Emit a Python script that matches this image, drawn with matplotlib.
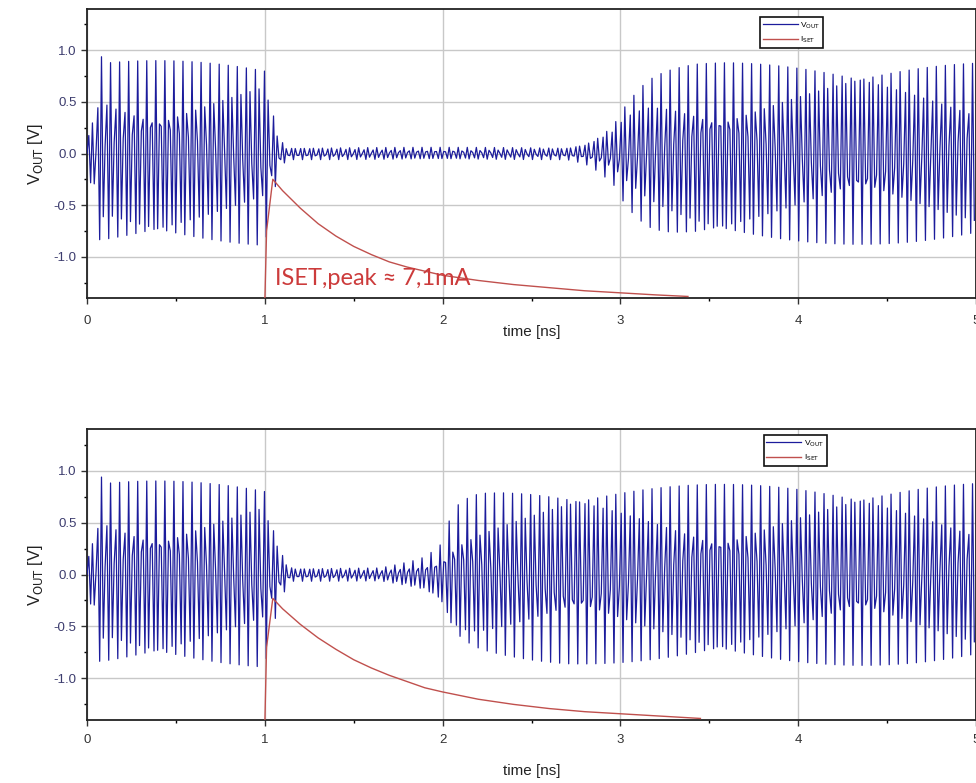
import numpy as np
import matplotlib
matplotlib.use("Agg")
import matplotlib.pyplot as plt
from matplotlib.ticker import MultipleLocator

# ---------------- data ----------------
trace_freq_ghz = 39.4       # oscillation seen through the simulator's output samples
sample_step_ns = 0.010185   # simulator output step (gives the aliased / moire look)

# panel 1: V_OUT envelope (time in ns, amplitude in V)
env1_t = [0.00, 0.03, 0.06, 0.08, 0.12, 1.00, 1.03, 1.07, 1.12, 2.70, 2.80,
          2.88, 2.96, 3.00, 3.05, 3.11, 3.15, 3.21, 3.26, 3.31, 3.42, 3.60, 4.00, 5.00]
env1_a = [0.30, 0.30, 0.80, 0.97, 0.90, 0.90, 0.60, 0.22, 0.06, 0.06, 0.10,
          0.18, 0.30, 0.43, 0.56, 0.67, 0.74, 0.79, 0.82, 0.84, 0.87, 0.88, 0.88, 0.88]
# panel 1: I_SET trace (drawn on the V_OUT scale)
iset1_t = [1.00, 1.01, 1.045, 1.10, 1.20, 1.30, 1.40, 1.50, 1.60, 1.70, 1.80,
           1.90, 2.00, 2.20, 2.40, 2.60, 2.80, 3.00, 3.20, 3.38]
iset1_v = [-1.45, -0.75, -0.25, -0.36, -0.53, -0.68, -0.80, -0.90, -0.98, -1.05, -1.10,
           -1.14, -1.18, -1.23, -1.27, -1.30, -1.33, -1.35, -1.37, -1.385]

# panel 2: V_OUT envelope
env2_t = [0.00, 0.03, 0.06, 0.08, 0.12, 1.00, 1.03, 1.07, 1.12, 1.16, 1.65, 1.75,
          1.85, 1.90, 1.95, 1.99, 2.04, 2.09, 2.14, 2.19, 2.24, 2.34, 2.49, 2.70, 5.00]
env2_a = [0.30, 0.30, 0.80, 0.97, 0.90, 0.90, 0.60, 0.36, 0.12, 0.065, 0.065, 0.10,
          0.14, 0.17, 0.23, 0.29, 0.53, 0.68, 0.74, 0.78, 0.80, 0.82, 0.84, 0.86, 0.88]
# panel 2: I_SET trace
iset2_t = [1.00, 1.01, 1.045, 1.10, 1.20, 1.30, 1.40, 1.50, 1.60, 1.70, 1.80,
           1.90, 2.00, 2.20, 2.40, 2.60, 2.80, 3.00, 3.20, 3.45]
iset2_v = [-1.45, -0.70, -0.23, -0.33, -0.48, -0.61, -0.72, -0.82, -0.90, -0.97, -1.03,
           -1.09, -1.13, -1.20, -1.25, -1.29, -1.32, -1.34, -1.36, -1.385]

x_ticks = [0, 1, 2, 3, 4, 5]
y_ticks = [-1.0, -0.5, 0.0, 0.5, 1.0]
annotation = "ISET,peak \u2248 7,1mA"

# ---------------- build traces ----------------
def vout_trace(env_t, env_a):
    t = np.arange(0.0, 5.0 + 1e-9, sample_step_ns)
    amp = np.interp(t, env_t, env_a)
    return t, amp * np.sin(2 * np.pi * trace_freq_ghz * t)

blue = "#1c1c9c"
red = "#c0504d"
tick_col = "#3c3c6e"

plt.rcParams["font.family"] = ["Liberation Sans", "DejaVu Sans"]

fig = plt.figure(figsize=(9.76, 7.83), dpi=100)
ax1 = fig.add_axes([87 / 976, 1 - 298 / 783, 889 / 976, 289 / 783])
ax2 = fig.add_axes([87 / 976, 1 - 720 / 783, 889 / 976, 291 / 783])

panels = [
    (ax1, env1_t, env1_a, iset1_t, iset1_v, (0.757, 0.972), True, 8, -1),
    (ax2, env2_t, env2_a, iset2_t, iset2_v, (0.761, 0.979), False, 6, 13),
]

for ax, et, ea, it, iv, lpos, annotate, tpad, xlpad in panels:
    t, v = vout_trace(et, ea)
    ax.plot(t, v, color=blue, lw=0.9, label="V$_\\mathrm{OUT}$", zorder=3)
    ax.plot(it, iv, color=red, lw=1.0, label="I$_\\mathrm{SET}$", zorder=4)
    ax.set_xlim(0, 5)
    ax.set_ylim(-1.4, 1.4)
    ax.set_xticks(x_ticks)
    ax.set_xticklabels([str(x) for x in x_ticks])
    ax.set_yticks(y_ticks)
    ax.set_yticklabels([f"{y:.1f}" for y in y_ticks])
    ax.xaxis.set_minor_locator(MultipleLocator(0.5))
    ax.yaxis.set_minor_locator(MultipleLocator(0.25))
    ax.grid(True, which="major", color="#c8c8c8", lw=1.0, zorder=0)
    ax.tick_params(axis="both", which="major", direction="out", length=4,
                   width=1, labelsize=9.5, colors="#333333")
    ax.tick_params(axis="x", pad=tpad, labelcolor="#333333")
    ax.tick_params(axis="y", labelcolor=tick_col)
    ax.tick_params(axis="both", which="minor", direction="out", length=2, width=1)
    for s in ax.spines.values():
        s.set_linewidth(1.3)
        s.set_color("#222222")
    ax.set_ylabel("V$_\\mathrm{OUT}$ [V]", fontsize=12, color="#222222", labelpad=6)
    ax.set_xlabel("time [ns]", fontsize=11, color="#222222", labelpad=xlpad)
    leg = ax.legend(loc="upper left", bbox_to_anchor=lpos, fontsize=6,
                    frameon=True, fancybox=False, handlelength=4.2,
                    handletextpad=0.3, borderpad=0.35, labelspacing=0.5,
                    borderaxespad=0.0)
    leg.get_frame().set_edgecolor("#111111")
    leg.get_frame().set_linewidth(1.2)
    leg.get_frame().set_alpha(1.0)
    if annotate:
        ax.text(1.055, -1.27, annotation, color="#cc3b3b", fontsize=17,
                family=["Lato", "DejaVu Sans"], va="baseline", ha="left", zorder=5)

fig.savefig("out.png", dpi=100)
